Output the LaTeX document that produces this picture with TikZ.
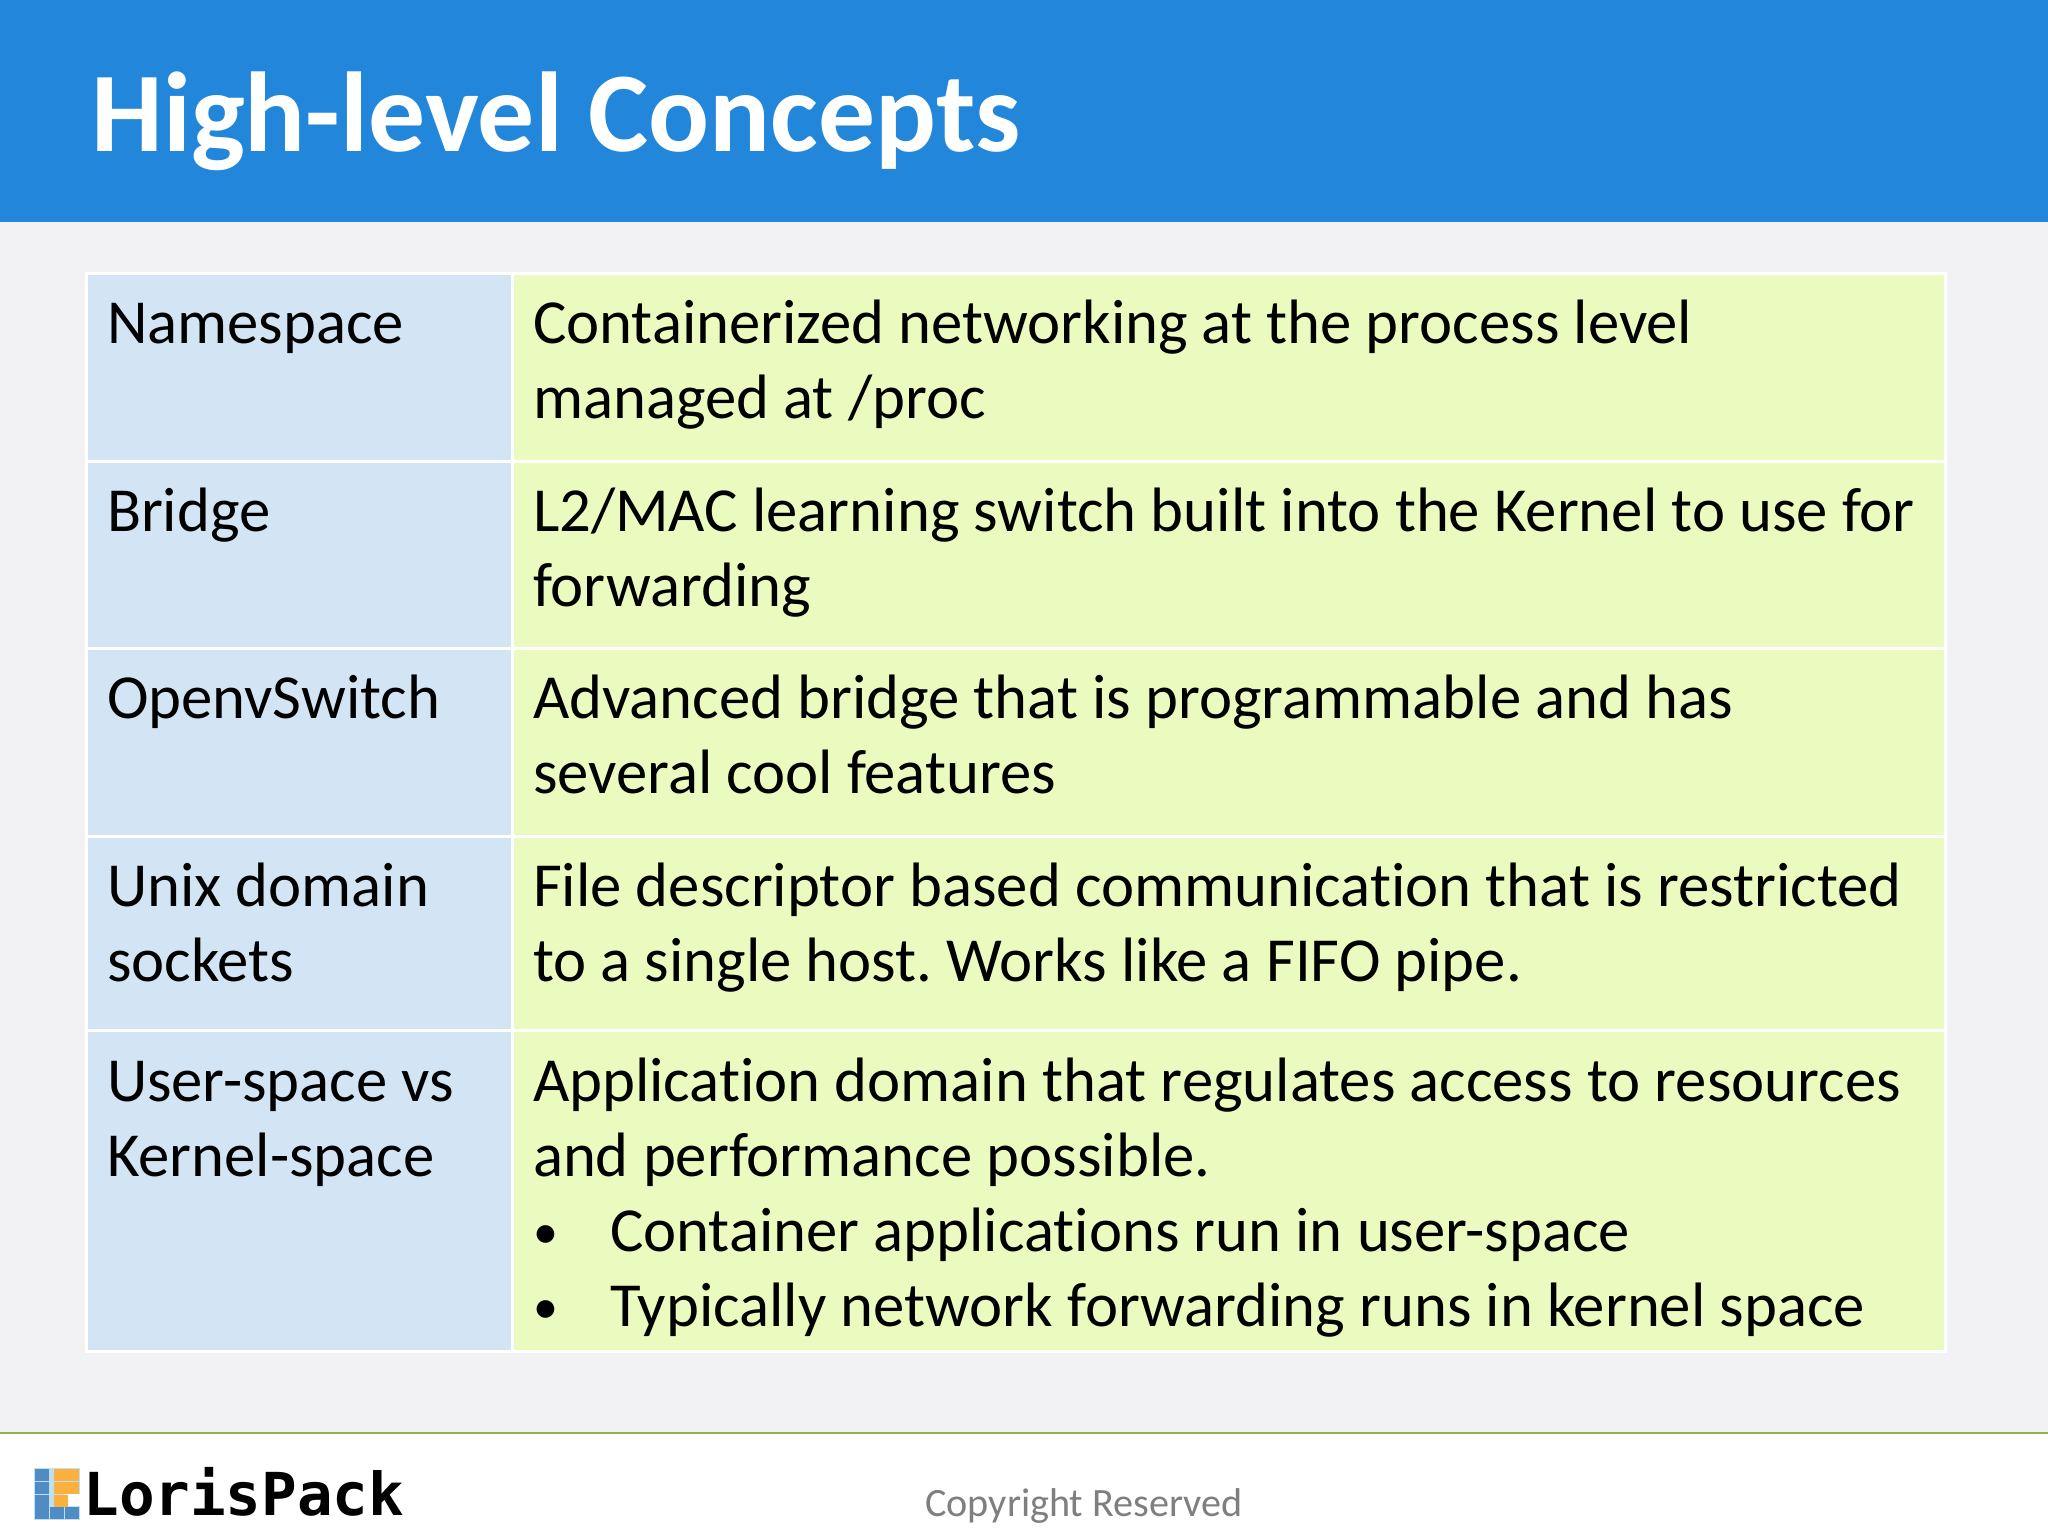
\documentclass[tikz,border=0pt]{standalone}
\usepackage{fontspec}
\setmainfont[Ligatures=NoCommon]{Carlito}
\newfontfamily\logofont{DejaVu Sans Mono}
\definecolor{headblue}{HTML}{2287DB}
\definecolor{pagebg}{HTML}{F2F1F4}
\definecolor{cellblue}{HTML}{D3E5F5}
\definecolor{cellgreen}{HTML}{EBFBC0}
\definecolor{ruleline}{HTML}{8DB63C}
\definecolor{lblue}{HTML}{4F8BC4}
\definecolor{lorange}{HTML}{FBB040}
\definecolor{lsky}{HTML}{BFE0F2}
\definecolor{copygray}{HTML}{7F7F7F}
\tikzset{
  x=0.5pt,y=-0.5pt,
  cellbox/.style={draw=white,line width=1.5pt,inner sep=0pt,outer sep=0pt},
  celltext/.style={anchor=north west,inner sep=0pt,outer sep=0pt,align=left,font=\fontsize{31.35pt}{37.5pt}\selectfont\frenchspacing,text=black},
}
\newcommand{\fs}{\strut}
\newcommand{\bul}[1]{\makebox[38.5pt][l]{\hspace{0.2pt}\raisebox{1.2pt}{\fontsize{25pt}{25pt}\selectfont •}}#1}
\begin{document}
\begin{tikzpicture}
\useasboundingbox (0,0) rectangle (2048,1536);
\fill[pagebg] (0,0) rectangle (2048,1536);
\fill[headblue] (0,0) rectangle (2048,222);
\fill[white] (0,1433) rectangle (2048,1536);
\draw[ruleline,line width=1.2pt] (0,1433) -- (2048,1433);
\node[anchor=base west,inner sep=0pt,text=white,font=\fontsize{56.8pt}{60pt}\selectfont\bfseries] (title) at (91,151) {High-level Concepts};
% cells
\foreach \ya/\yb/\n in {273/461/1,461/648/2,648/836/3,836/1030/4,1030/1351/5}{
  \filldraw[cellbox,fill=cellblue] (86,\ya) rectangle (512,\yb);
  \filldraw[cellbox,fill=cellgreen] (512,\ya) rectangle (1945,\yb);
}
\node[celltext] (a1) at (107,291) {\fs Namespace};
\node[celltext] (b1) at (533,291) {\fs Containerized networking at the process level\\managed at /proc};
\node[celltext] (a2) at (107,479) {\fs Bridge};
\node[celltext] (b2) at (533,479) {\fs L2/MAC learning switch built into the Kernel to use for\\forwarding};
\node[celltext] (a3) at (107,666) {\fs OpenvSwitch};
\node[celltext] (b3) at (533,666) {\fs Advanced bridge that is programmable and has\\several cool features};
\node[celltext] (a4) at (107,854) {\fs Unix domain\\sockets};
\node[celltext] (b4) at (533,854) {\fs File descriptor based communication that is restricted\\to a single host. Works like a FIFO pipe.};
\node[celltext] (a5) at (107,1048.5) {\fs User-space vs\\Kernel-space};
\node[celltext] (b5) at (533,1048.5) {\fs Application domain that regulates access to resources\\and performance possible.\\\bul{Container applications run in user-space}\\\bul{Typically network forwarding runs in kernel space}};
% logo
\fill[lsky] (34,1468) rectangle (80,1520);
\fill[white] (64,1494) rectangle (80,1506);
\foreach \x/\y/\c in {35/1469/lblue,35/1482/lblue,35/1495/lblue,35/1507/lblue,50/1507/lblue,65/1507/lblue,
  54/1469/lorange,65/1469/lorange,54/1482/lorange,65/1482/lorange,54/1495/lorange}{
  \fill[\c] (\x,\y) rectangle ++(13.5,12);
}
\node[anchor=base west,inner sep=0pt,font=\fontsize{29.6pt}{30pt}\selectfont\logofont\bfseries,text=black] (logo) at (83,1515) {LorisPack};
\node[anchor=base,inner sep=0pt,font=\fontsize{20.1pt}{21pt}\selectfont,text=copygray] (copy) at (1084,1516) {Copyright Reserved};
\end{tikzpicture}
\end{document}
